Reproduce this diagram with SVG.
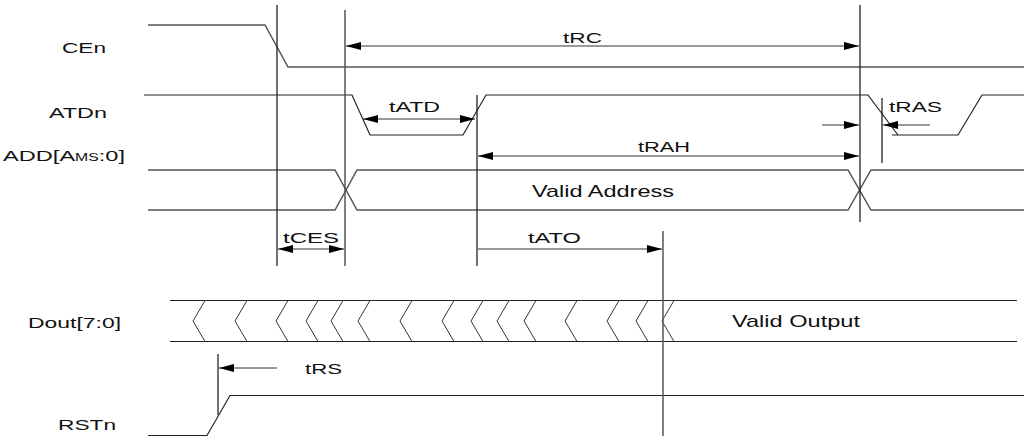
<svg xmlns="http://www.w3.org/2000/svg" width="1025" height="439" viewBox="0 0 1025 439">
<defs>
<marker id="ah" viewBox="0 0 15 8" refX="15" refY="4" markerWidth="15" markerHeight="8" markerUnits="userSpaceOnUse" orient="auto-start-reverse">
<path d="M0,0 L15,4 L0,8 Z" fill="#000"/>
</marker>
</defs>
<style>
.w{fill:none;stroke:#222;stroke-width:1.2}
.g{fill:none;stroke:#555;stroke-width:1.5}
.v{fill:none;stroke:#222;stroke-width:1.3}
.a{fill:none;stroke:#333;stroke-width:1}
text{font-family:"Liberation Sans",Arial,sans-serif;font-size:15px;fill:#111}
.b{font-size:17px}
</style>
<rect width="1025" height="439" fill="#fff"/>
<g id="labels">
<text x="62" y="53" textLength="44" lengthAdjust="spacingAndGlyphs">CEn</text>
<text x="49" y="118" textLength="58" lengthAdjust="spacingAndGlyphs">ATDn</text>
<text x="3" y="161" textLength="122" lengthAdjust="spacingAndGlyphs">ADD[A<tspan font-size="10">MS</tspan>:0]</text>
<text x="28" y="328" textLength="93" lengthAdjust="spacingAndGlyphs">Dout[7:0]</text>
<text x="58" y="430" textLength="58" lengthAdjust="spacingAndGlyphs">RSTn</text>
</g>
<g id="CEn"><polyline class="g" points="148,25 265,25 288,67 1024,67"/></g>
<g id="ATDn"><polyline class="w" points="144,95 352,95 370,135 463,135 486,95 868,95 898,135"/><polyline class="w" points="892,135 958,135 982,95 1024,95"/></g>
<g id="ADD">
<polyline class="g" points="148,170 335,170 357,210 848,210 871,170 1024,170"/>
<polyline class="g" points="148,210 335,210 357,170 848,170 871,210 1024,210"/>
<text class="b" x="532" y="197" textLength="142" lengthAdjust="spacingAndGlyphs">Valid Address</text>
</g>
<g id="Dout">
<line class="w" x1="170" y1="300.5" x2="1017" y2="300.5"/>
<line class="w" x1="170" y1="341.5" x2="1017" y2="341.5"/>
<path class="a" d="M205,300.5 L193,321 L205,341.5 M247,300.5 L235,321 L247,341.5 M288,300.5 L276,321 L288,341.5 M318,300.5 L306,321 L318,341.5 M343,300.5 L331,321 L343,341.5 M370,300.5 L358,321 L370,341.5 M412,300.5 L400,321 L412,341.5 M454,300.5 L442,321 L454,341.5 M483,300.5 L471,321 L483,341.5 M509,300.5 L497,321 L509,341.5 M536,300.5 L524,321 L536,341.5 M577,300.5 L565,321 L577,341.5 M619,300.5 L607,321 L619,341.5 M648,300.5 L636,321 L648,341.5 M674,300.5 L662,321 L674,341.5"/>
<text class="b" x="732" y="327" textLength="128" lengthAdjust="spacingAndGlyphs">Valid Output</text>
</g>
<g id="RSTn"><polyline class="w" points="148,435.5 207,435.5 230,395.5 1024,395.5"/></g>
<g id="connectors">
<line class="v" x1="277" y1="5" x2="277" y2="266"/>
<line class="g" x1="345" y1="10" x2="345" y2="266"/>
<line class="v" x1="477" y1="95" x2="477" y2="266"/>
<line class="v" x1="860" y1="5" x2="860" y2="222"/>
<line class="v" x1="882" y1="98" x2="882" y2="163"/>
<line class="g" x1="663" y1="231" x2="663" y2="436"/>
<line class="v" x1="218" y1="354" x2="218" y2="415"/>
<line class="a" x1="346" y1="46" x2="859" y2="46" marker-start="url(#ah)" marker-end="url(#ah)"/>
<line class="a" x1="363" y1="119" x2="475" y2="119" marker-start="url(#ah)" marker-end="url(#ah)"/>
<line class="a" x1="478" y1="156" x2="859" y2="156" marker-start="url(#ah)" marker-end="url(#ah)"/>
<line class="a" x1="822" y1="125" x2="859" y2="125" marker-end="url(#ah)"/>
<line class="a" x1="930" y1="125" x2="883" y2="125" marker-end="url(#ah)"/>
<line class="a" x1="278" y1="249" x2="344" y2="249" marker-start="url(#ah)" marker-end="url(#ah)"/>
<line class="a" x1="478" y1="249" x2="662" y2="249" marker-end="url(#ah)"/>
<line class="a" x1="277" y1="368" x2="219" y2="368" marker-end="url(#ah)"/>
<text x="563" y="43" textLength="39" lengthAdjust="spacingAndGlyphs">tRC</text>
<text x="389" y="112" textLength="51" lengthAdjust="spacingAndGlyphs">tATD</text>
<text x="638" y="152" textLength="52" lengthAdjust="spacingAndGlyphs">tRAH</text>
<text x="889" y="112" textLength="53" lengthAdjust="spacingAndGlyphs">tRAS</text>
<text x="283" y="243" textLength="56" lengthAdjust="spacingAndGlyphs">tCES</text>
<text x="528" y="243" textLength="53" lengthAdjust="spacingAndGlyphs">tATO</text>
<text x="305" y="374" textLength="37" lengthAdjust="spacingAndGlyphs">tRS</text>
</g>
</svg>
